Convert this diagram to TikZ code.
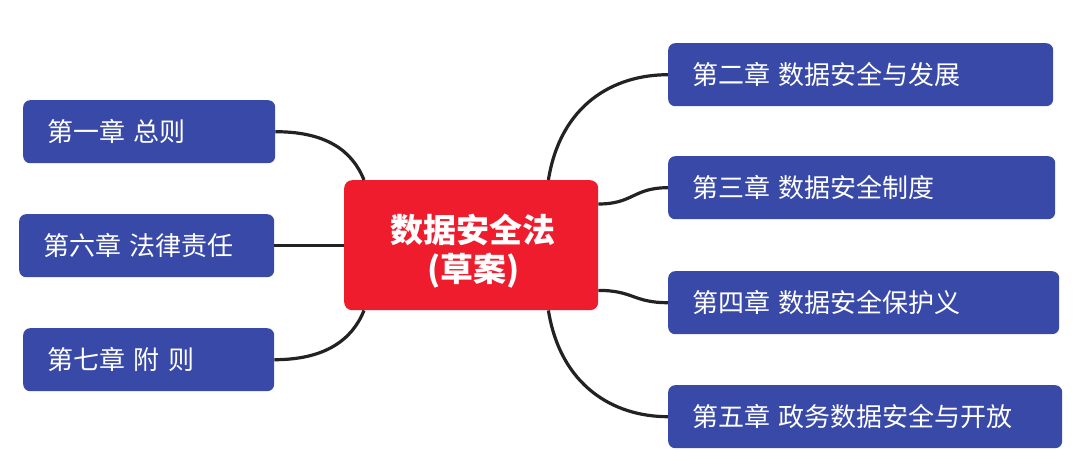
\documentclass[tikz,border=0pt]{standalone}
\usepackage{fontspec}
\setmainfont[WordSpace=0.6]{Noto Sans CJK SC}
\usetikzlibrary{calc}
\definecolor{chapblue}{HTML}{3949A8}
\definecolor{mainred}{HTML}{EE1C2D}
\definecolor{linegray}{HTML}{222222}
\tikzset{
  chapbox/.style={draw=none, fill=chapblue, rounded corners=7pt, text=white,
    anchor=north west, inner xsep=24pt, inner ysep=0pt, align=left,
    font=\fontsize{26}{30}\selectfont, minimum height=63pt},
  centerbox/.style={draw=none, fill=mainred, rounded corners=8pt,
    anchor=north west, minimum width=254pt, minimum height=130pt, inner sep=0pt},
  centertext/.style={text=white, align=center, inner sep=0pt,
    font=\fontsize{33}{39}\selectfont\bfseries},
  link/.style={draw=linegray, line width=3.2pt}
}
\begin{document}
\begin{tikzpicture}[x=1pt,y=-1pt]
\useasboundingbox (0,0) rectangle (1080,450);
\fill[white] (0,0) rectangle (1080,450);
% center
\node[centerbox] (c) at (344,180) {};
\node[centertext] (ct) at ($(c.center)+(2,6)$) {数据安全法\\(草案)};
% left
\node[chapbox, text width=204pt] (c1) at (23,100) {第一章 总则};
\node[chapbox, text width=207pt] (c6) at (19,214) {第六章 法律责任};
\node[chapbox, text width=203pt] (c7) at (23,328) {第七章 附 则};
% right
\node[chapbox, text width=337pt] (c2) at (668,43) {第二章 数据安全与发展};
\node[chapbox, text width=339pt] (c3) at (668,156) {第三章 数据安全制度};
\node[chapbox, text width=343pt] (c4) at (668,271) {第四章 数据安全保护义};
\node[chapbox, text width=346pt] (c5) at (668,385) {第五章 政务数据安全与开放};
% connectors
\coordinate (p1) at ($(c.north west)+(20,0)$);
\coordinate (p7) at ($(c.south west)+(20,0)$);
\coordinate (p2) at ($(c.north east)+(-50,0)$);
\coordinate (p3) at ($(c.north east)+(0,24)$);
\coordinate (p4) at ($(c.south east)+(0,-20)$);
\coordinate (p5) at ($(c.south east)+(-50,0)$);
\draw[link] (c1.east) .. controls +(50,0) and +(-12,-30) .. (p1);
\draw[link] (c6.east) -- (c.west |- c6.east);
\draw[link] (c7.east) .. controls +(50,0) and +(-12,30) .. (p7);
\draw[link] (p2) .. controls +(12,-75) and +(-55,0) .. (c2.west);
\draw[link] (p3) .. controls +(35,0) and +(-35,0) .. (c3.west);
\draw[link] (p4) .. controls +(35,0) and +(-35,0) .. (c4.west);
\draw[link] (p5) .. controls +(12,75) and +(-55,0) .. (c5.west);
\end{tikzpicture}
\end{document}
